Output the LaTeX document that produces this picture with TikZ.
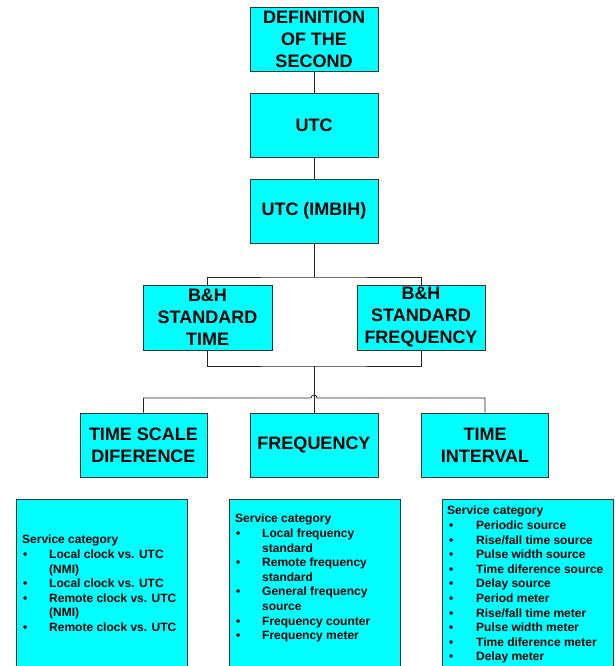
\documentclass[tikz,border=0pt]{standalone}
\usepackage{fontspec}
\setmainfont{Liberation Sans}
\definecolor{boxcyan}{RGB}{0,255,255}
\begin{document}
\begin{tikzpicture}[x=1pt,y=-1pt,
  hbox/.style={draw=black!80, fill=boxcyan, line width=0.8pt, minimum width=128pt, minimum height=64pt,
    inner sep=0pt, align=center, font=\fontsize{18}{22}\selectfont\bfseries},
  sbox/.style={draw=black!80, fill=boxcyan, line width=0.8pt, minimum width=171pt, minimum height=200pt, inner sep=0pt, anchor=north west},
  stext/.style={anchor=north west, inner sep=0pt, align=left, font=\fontsize{12}{14.6}\selectfont\bfseries},
  conn/.style={draw=black!85, line width=0.8pt}
]
\clip (0,0) rectangle (614,666);
\fill[white] (0,0) rectangle (614,666);
% top chain
\node[hbox] (def) at (314,39.5) {DEFINITION\\OF THE\\SECOND};
\node[hbox] (utc) at (314,125) {UTC};
\node[hbox] (imbih) at (314,211) {UTC (IMBIH)};
\node[hbox, minimum width=129pt, minimum height=65pt] (bht) at (207.5,317.5) {B\&H\\STANDARD\\TIME};
\node[hbox, minimum width=128pt, minimum height=65pt] (bhf) at (421,317.5) {B\&H\\STANDARD\\FREQUENCY};
\node[hbox, minimum width=127pt] (tsd) at (143.5,445) {TIME SCALE\\DIFERENCE};
\node[hbox] (frq) at (314,445) {FREQUENCY};
\node[hbox, minimum width=127pt] (ti) at (485,445) {TIME\\INTERVAL};
% connectors
\draw[conn] (def.south) -- (utc.north);
\draw[conn] (utc.south) -- (imbih.north);
\coordinate (j1) at (314,277);
\draw[conn] (imbih.south) -- (j1);
\draw[conn] (bht.north) |- (j1) -| (bhf.north);
\coordinate (j2) at (314,366);
\draw[conn] (bht.south) |- (j2) -| (bhf.south);
\draw[conn] (j2) -- (frq.north);
\coordinate (h1) at (311,398);
\coordinate (h2) at (317,398);
\draw[conn] (tsd.north) |- (h1) arc[start angle=180, end angle=0, radius=3pt] -- (h2) -| (ti.north);
% service boxes
\node[sbox] (s1) at (16,499) {};
\node[sbox] (s2) at (229,499) {};
\node[sbox] (s3) at (442,499) {};
\node[stext] (t1) at (22,535) {Service category\\
\makebox[27pt][l]{\hspace{1pt}\textbullet}Local clock vs. UTC\\
\hspace*{27pt}(NMI)\\
\makebox[27pt][l]{\hspace{1pt}\textbullet}Local clock vs. UTC\\
\makebox[27pt][l]{\hspace{1pt}\textbullet}Remote clock vs. UTC\\
\hspace*{27pt}(NMI)\\
\makebox[27pt][l]{\hspace{1pt}\textbullet}Remote clock vs. UTC};
\node[stext] (t2) at (235,514) {Service category\\
\makebox[27pt][l]{\hspace{1pt}\textbullet}Local frequency\\
\hspace*{27pt}standard\\
\makebox[27pt][l]{\hspace{1pt}\textbullet}Remote frequency\\
\hspace*{27pt}standard\\
\makebox[27pt][l]{\hspace{1pt}\textbullet}General frequency\\
\hspace*{27pt}source\\
\makebox[27pt][l]{\hspace{1pt}\textbullet}Frequency counter\\
\makebox[27pt][l]{\hspace{1pt}\textbullet}Frequency meter};
\node[stext] (t3) at (447,506) {Service category\\
\makebox[29pt][l]{\hspace{2pt}\textbullet}Periodic source\\
\makebox[29pt][l]{\hspace{2pt}\textbullet}Rise/fall time source\\
\makebox[29pt][l]{\hspace{2pt}\textbullet}Pulse width source\\
\makebox[29pt][l]{\hspace{2pt}\textbullet}Time diference source\\
\makebox[29pt][l]{\hspace{2pt}\textbullet}Delay source\\
\makebox[29pt][l]{\hspace{2pt}\textbullet}Period meter\\
\makebox[29pt][l]{\hspace{2pt}\textbullet}Rise/fall time meter\\
\makebox[29pt][l]{\hspace{2pt}\textbullet}Pulse width meter\\
\makebox[29pt][l]{\hspace{2pt}\textbullet}Time diference meter\\
\makebox[29pt][l]{\hspace{2pt}\textbullet}Delay meter};
\end{tikzpicture}
\end{document}
